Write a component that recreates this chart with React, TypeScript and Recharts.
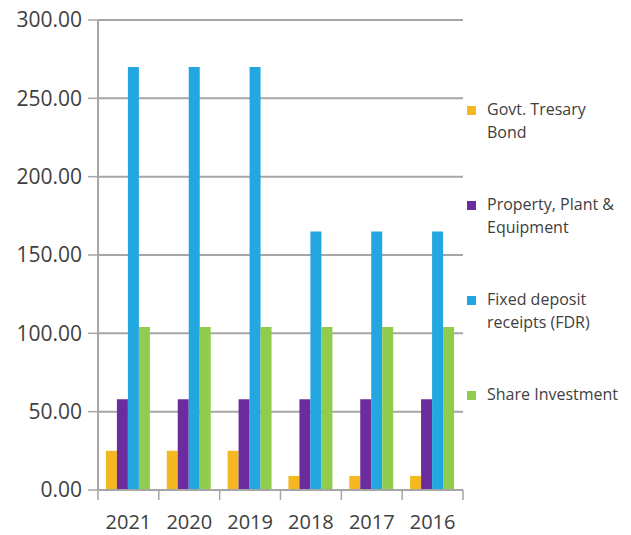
import React from 'react';
import { BarChart, Bar, XAxis, YAxis, CartesianGrid, Legend } from 'recharts';

const years = ['2021', '2020', '2019', '2018', '2017', '2016'];
const govtBond = [25, 25, 25, 9, 9, 9];
const ppe = [58, 58, 58, 58, 58, 58];
const fdr = [270, 270, 270, 165, 165, 165];
const shareInvestment = [104, 104, 104, 104, 104, 104];
const yTicks = [0, 50, 100, 150, 200, 250, 300];

const seriesInfo = [
    { key: 'govt', name: 'Govt. Tresary', name2: 'Bond', color: '#F5B820' },
    { key: 'ppe', name: 'Property, Plant &', name2: 'Equipment', color: '#6B2D9E' },
    { key: 'fdr', name: 'Fixed deposit', name2: 'receipts (FDR)', color: '#22A7E0' },
    { key: 'share', name: 'Share Investment', name2: '', color: '#92CC4E' },
];

const data = years.map((year, i) => ({
    year,
    govt: govtBond[i],
    ppe: ppe[i],
    fdr: fdr[i],
    share: shareInvestment[i],
}));

const FONT = '"Open Sans", sans-serif';
const TEXT = '#404040';
const AXIS = '#a6a6a6';

const CHART_W = 631;
const CHART_H = 535;
const MARGIN = { top: 20, right: 168, left: 0, bottom: 0 };
const Y_AXIS_W = 98;
const PLOT_W = CHART_W - MARGIN.left - MARGIN.right - Y_AXIS_W;
const BAND = PLOT_W / years.length;

// x tick: label plus little separators between categories
const XTick = ({ x, y, payload, index }: any) => (
    <g>
        <line x1={x - BAND / 2} x2={x - BAND / 2} y1={y - 8} y2={y + 2} stroke={AXIS} strokeWidth={1.5} />
        {index === years.length - 1 && (
            <line x1={x + BAND / 2} x2={x + BAND / 2} y1={y - 8} y2={y + 2} stroke={AXIS} strokeWidth={1.5} />
        )}
        <text x={x} y={y + 31} textAnchor="middle" fill={TEXT} fontSize={20} fontFamily={FONT}>
            {payload.value}
        </text>
    </g>
);

const LegendContent = () => (
    <div style={{ fontFamily: FONT, fontSize: 16, color: TEXT, lineHeight: '23px' }}>
        {seriesInfo.map((s, i) => (
            <div key={s.key} style={{ display: 'flex', alignItems: 'flex-start', marginBottom: i < 3 ? 49 : 0, height: i < 3 ? 46 : 23 }}>
                <span style={{ width: 9, height: 9, background: s.color, marginTop: 8, marginRight: 11, flexShrink: 0 }} />
                <span style={{ whiteSpace: 'nowrap' }}>
                    {s.name}
                    {s.name2 && <br />}
                    {s.name2}
                </span>
            </div>
        ))}
    </div>
);

export default function App() {
    return (
        <div style={{ position: 'absolute', left: 0, top: 0, width: CHART_W, height: CHART_H, background: '#fff' }}>
            <BarChart
                width={CHART_W}
                height={CHART_H}
                data={data}
                margin={MARGIN}
                barCategoryGap="13%"
                barGap={0}
            >
                <CartesianGrid horizontal vertical={false} stroke={AXIS} strokeWidth={2} />
                <XAxis
                    dataKey="year"
                    height={45}
                    axisLine={{ stroke: AXIS, strokeWidth: 2 }}
                    tickLine={false}
                    tick={<XTick />}
                    interval={0}
                />
                <YAxis
                    width={Y_AXIS_W}
                    domain={[0, 300]}
                    ticks={yTicks}
                    tickFormatter={(v: number) => v.toFixed(2)}
                    axisLine={{ stroke: AXIS, strokeWidth: 2 }}
                    tickLine={{ stroke: AXIS, strokeWidth: 1.5 }}
                    tickSize={10}
                    tickMargin={6}
                    tick={{ fill: TEXT, fontSize: 21, fontFamily: FONT }}
                />
                <Legend
                    layout="horizontal"
                    align="center"
                    verticalAlign="middle"
                    content={<LegendContent />}
                    wrapperStyle={{ top: 98, left: 467, width: 164 }}
                />
                {seriesInfo.map(s => (
                    <Bar key={s.key} dataKey={s.key} name={s.name} fill={s.color} isAnimationActive={false} />
                ))}
            </BarChart>
        </div>
    );
}
